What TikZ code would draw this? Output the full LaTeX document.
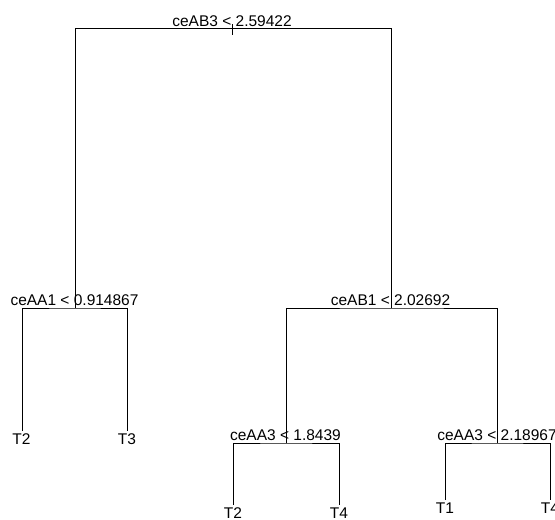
\documentclass[tikz,border=0pt]{standalone}
\usepackage{fontspec}
\setmainfont{Liberation Sans}
\begin{document}
\begin{tikzpicture}[x=1pt,y=-1pt,
  branch/.style={draw=black,line width=0.8pt},
  splitlabel/.style={anchor=base,inner sep=0pt,font=\fontsize{15.5}{18}\selectfont},
  leaflabel/.style={anchor=north,inner sep=0pt,font=\fontsize{15.5}{18}\selectfont}]
\useasboundingbox (0,0) rectangle (555,520);
% split points
\coordinate (n1) at (232,28.5);
\coordinate (n2) at (75,308);
\coordinate (n3) at (391.5,308);
\coordinate (n6) at (286,443);
\coordinate (n7) at (497,443);
% leaf ends
\coordinate (l4) at (22,431);
\coordinate (l5) at (127,431);
\coordinate (l12) at (233,505);
\coordinate (l13) at (339,505);
\coordinate (l14) at (445,500);
\coordinate (l15) at (550,500);
\coordinate (t1) at (232,24);
\coordinate (t2) at (232,35);
% branches
\draw[branch] (n2) |- (n1) -| (n3);
\draw[branch] (t1) -- (t2);
\draw[branch] (l4) |- (n2) -| (l5);
\draw[branch] (n6) |- (n3) -| (n7);
\draw[branch] (l12) |- (n6) -| (l13);
\draw[branch] (l14) |- (n7) -| (l15);
% split labels
\node[splitlabel] (s1) at (232,26) {ceAB3 < 2.59422};
\node[splitlabel] (s2) at (74.5,305.5) {ceAA1 < 0.914867};
\node[splitlabel] (s3) at (390.5,305.5) {ceAB1 < 2.02692};
\node[splitlabel] (s6) at (285.5,440.5) {ceAA3 < 1.8439};
\node[splitlabel] (s7) at (497,440.5) {ceAA3 < 2.18967};
% leaf labels
\node[leaflabel] (T4a) at (21.5,433) {T2};
\node[leaflabel] (T5a) at (127,433) {T3};
\node[leaflabel] (T12a) at (233,507.5) {T2};
\node[leaflabel] (T13a) at (339,507.5) {T4};
\node[leaflabel] (T14a) at (445,502.5) {T1};
\node[leaflabel] (T15a) at (550,502.5) {T4};
\end{tikzpicture}
\end{document}
